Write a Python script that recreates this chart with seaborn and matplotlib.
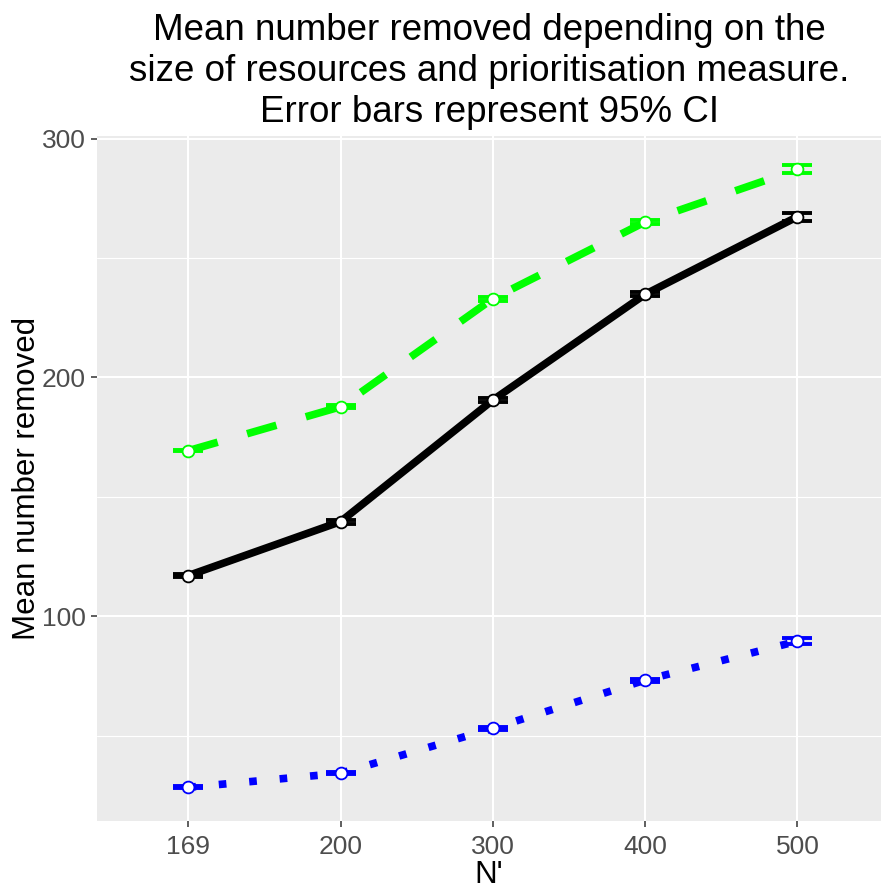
import numpy as np
import pandas as pd
import matplotlib
matplotlib.use("Agg")
import matplotlib.pyplot as plt
from matplotlib.ticker import FixedLocator
import seaborn as sns

# Resource sizes (N') shown as discrete categories
n_prime = ["169", "200", "300", "400", "500"]

# Mean number removed per prioritisation measure
measure_green = [169.3, 187.7, 233.0, 265.1, 287.1]
measure_black = [117.0, 139.6, 190.5, 234.8, 267.3]
measure_blue = [28.3, 34.2, 53.0, 73.2, 89.5]

# Half-width of the 95% confidence intervals
ci_green = [0.2, 0.6, 0.8, 0.8, 1.7]
ci_black = [0.6, 0.8, 0.8, 0.8, 1.6]
ci_blue = [0.4, 0.5, 0.5, 0.6, 1.2]

measures = ["green", "black", "blue"]
colours = {"green": "#00FF00", "black": "#000000", "blue": "#0000FF"}
dash_styles = {"green": (4, 4), "black": "", "blue": (1, 3)}

df = pd.DataFrame({
    "N'": n_prime * 3,
    "mean": measure_green + measure_black + measure_blue,
    "ci": ci_green + ci_black + ci_blue,
    "measure": sum([[m] * len(n_prime) for m in measures], []),
})
df["N'"] = pd.Categorical(df["N'"], categories=n_prime, ordered=True)
df["xpos"] = df["N'"].cat.codes

sns.set_theme(style="darkgrid")
plt.rcParams["font.family"] = ["Liberation Sans", "DejaVu Sans"]

fig = plt.figure(figsize=(8.81, 8.89), dpi=100)
ax = fig.add_axes([97 / 881, 68 / 889, 1 - 97 / 881, (821 - 136) / 889])
ax.set_facecolor("#EBEBEB")

# Error bars underneath the lines and points
for m in measures:
    sub = df[df["measure"] == m]
    ax.errorbar(sub["xpos"], sub["mean"], yerr=sub["ci"], fmt="none",
                ecolor=colours[m], color=colours[m], elinewidth=2.6,
                capsize=11, capthick=2.8, zorder=2)

n_before = len(ax.lines)
sns.lineplot(data=df, x="xpos", y="mean", hue="measure", style="measure",
             hue_order=measures, style_order=measures, palette=colours,
             dashes=dash_styles, linewidth=5.5, marker="o", markersize=8.5,
             markerfacecolor="white", markeredgewidth=1.3,
             legend=False, ax=ax, zorder=3, errorbar=None)
for line in ax.lines[n_before:]:
    line.set_markeredgecolor(line.get_color())
    line.set_solid_capstyle("butt")
    line.set_dash_capstyle("butt")

ax.set_xlim(-0.6, (881 - 190) / 151.9)
ax.set_ylim(14.2, 301.1)
ax.set_xticks(range(len(n_prime)))
ax.set_xticklabels(n_prime)
ax.set_yticks([100, 200, 300])
ax.yaxis.set_minor_locator(FixedLocator([50, 150, 250]))

ax.grid(which="major", color="white", linewidth=1.5)
ax.grid(which="minor", axis="y", color="white", linewidth=0.8)
ax.grid(which="minor", axis="x", visible=False)
for s in ax.spines.values():
    s.set_visible(False)

ax.tick_params(axis="both", which="major", length=4, width=1.1,
               color="#333333", labelsize=19, labelcolor="#4D4D4D", pad=4,
               left=True, bottom=True)
ax.tick_params(axis="x", which="major", pad=6)
ax.tick_params(axis="y", which="minor", length=0)

ax.set_xlabel("N'", fontsize=22.5, color="black", labelpad=1)
ax.set_ylabel("Mean number removed", fontsize=22.5, color="black", labelpad=0)

ax.set_title("Mean number removed depending on the\n"
             "size of resources and prioritisation measure.\n"
             "Error bars represent 95% CI",
             fontsize=26.5, color="black", pad=10, linespacing=1.22)

fig.savefig("out.png", dpi=100)
